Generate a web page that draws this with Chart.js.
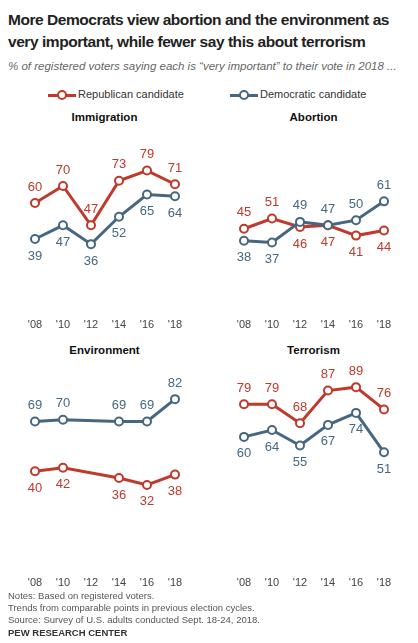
<!DOCTYPE html>
<html>
<head>
<meta charset="utf-8">
<script src="https://cdn.jsdelivr.net/npm/chart.js@4"></script>
<style>
  body { margin: 0; width: 418px; height: 643px; background: #fff; font-family: "Liberation Sans", Arial, sans-serif; position: relative; overflow: hidden; }
  .abs { position: absolute; }
  #title { left: 8px; top: 9px; width: 412px; font-size: 15.5px; font-weight: bold; line-height: 22px; color: #222; letter-spacing: -0.45px; }
  #sub { left: 8px; top: 60px; font-size: 11.5px; font-style: italic; color: #666; white-space: nowrap; }
  .ptitle { font-size: 11.5px; font-weight: bold; color: #111; width: 209px; text-align: center; }
  .leg { font-size: 11px; color: #333; top: 88px; white-space: nowrap; }
  .leg span.sw { display: inline-block; width: 28px; height: 10px; position: relative; vertical-align: middle; margin-right: 2px; }
  .leg span.sw::before { content: ""; position: absolute; left: 0; right: 0; top: 4px; height: 3px; background: var(--c); }
  .leg span.sw::after { content: ""; position: absolute; left: 9px; top: 0; width: 6px; height: 6px; border: 2px solid var(--c); border-radius: 50%; background: #fff; }
  #notes { left: 8px; top: 590px; font-size: 9.5px; color: #555; line-height: 12px; }
  #pew { left: 8px; top: 627px; font-size: 9.5px; font-weight: bold; color: #333; }
  canvas { position: absolute; }
</style>
</head>
<body>
<div id="title" class="abs">More Democrats view abortion and the environment as very important, while fewer say this about terrorism</div>
<div id="sub" class="abs">% of registered voters saying each is “very important” to their vote in 2018 ...</div>
<div class="abs leg" style="left:48px"><span class="sw" style="--c:#c0392b"></span>Republican candidate</div>
<div class="abs leg" style="left:230px"><span class="sw" style="--c:#46677f"></span>Democratic candidate</div>
<div class="abs ptitle" style="left:0;top:111px">Immigration</div>
<div class="abs ptitle" style="left:209px;top:111px">Abortion</div>
<div class="abs ptitle" style="left:0;top:344px">Environment</div>
<div class="abs ptitle" style="left:209px;top:344px">Terrorism</div>
<canvas id="c1" width="209" height="216" style="left:0;top:140px"></canvas>
<canvas id="c2" width="209" height="216" style="left:209px;top:140px"></canvas>
<canvas id="c3" width="209" height="254" style="left:0;top:360px"></canvas>
<canvas id="c4" width="209" height="254" style="left:209px;top:360px"></canvas>
<div id="notes" class="abs">Notes: Based on registered voters.<br>Trends from comparable points in previous election cycles.<br>Source: Survey of U.S. adults conducted Sept. 18-24, 2018.</div>
<div id="pew" class="abs">PEW RESEARCH CENTER</div>
<script>
// Data
const years = ["'08", "'10", "'12", "'14", "'16", "'18"];

const immigrationRep = [60, 70, 47, 73, 79, 71];
const immigrationDem = [39, 47, 36, 52, 65, 64];
const abortionRep = [45, 51, 46, 47, 41, 44];
const abortionDem = [38, 37, 49, 47, 50, 61];
const environmentRep = [40, 42, null, 36, 32, 38];
const environmentDem = [69, 70, null, 69, 69, 82];
const terrorismRep = [79, 79, 68, 87, 89, 76];
const terrorismDem = [60, 64, 55, 67, 74, 51];

// Label placement: a = above point, b = below
const abortionRepPos = ['a', 'a', 'b', 'b', 'b', 'b'];
const abortionDemPos = ['b', 'b', 'a', 'a', 'a', 'a'];

const repColor = '#c0392b';
const demColor = '#46677f';

// Draws value labels next to each point
const valueLabels = {
    id: 'valueLabels',
    afterDatasetsDraw(chart) {
        const ctx = chart.ctx;
        ctx.save();
        ctx.font = '13px "Liberation Sans", Arial, sans-serif';
        ctx.textAlign = 'center';
        ctx.textBaseline = 'middle';
        chart.data.datasets.forEach((ds, i) => {
            const meta = chart.getDatasetMeta(i);
            ctx.fillStyle = ds.borderColor;
            meta.data.forEach((pt, j) => {
                const v = ds.data[j];
                if (v === null) return;
                const pos = ds.labelPos[j];
                ctx.fillText(v, pt.x, pt.y + (pos === 'a' ? -16 : 17));
            });
        });
        ctx.restore();
    }
};

function series(label, data, color, pos) {
    return {
        label, data,
        borderColor: color,
        backgroundColor: '#fff',
        borderWidth: 3,
        pointRadius: 4,
        pointBorderWidth: 2,
        pointBackgroundColor: '#fff',
        spanGaps: true,
        tension: 0,
        clip: false,
        labelPos: pos
    };
}

function makeChart(id, rep, dem, repPos, demPos, min, max) {
    new Chart(document.getElementById(id), {
        type: 'line',
        data: {
            labels: years,
            datasets: [
                series('Democratic candidate', dem, demColor, demPos),
                series('Republican candidate', rep, repColor, repPos)
            ]
        },
        options: {
            responsive: false,
            animation: false,
            layout: { padding: { left: 35, right: 34, top: 10, bottom: 7 } },
            plugins: { legend: { display: false }, tooltip: { enabled: false } },
            scales: {
                x: {
                    offset: false,
                    grid: { display: false },
                    border: { display: false },
                    ticks: { padding: 17, color: '#444', font: { size: 11, family: '"Liberation Sans", Arial, sans-serif' }, autoSkip: false, maxRotation: 0 }
                },
                y: { display: false, min, max }
            }
        },
        plugins: [valueLabels]
    });
}

const allA = ['a', 'a', 'a', 'a', 'a', 'a'];
const allB = ['b', 'b', 'b', 'b', 'b', 'b'];

makeChart('c1', immigrationRep, immigrationDem, allA, allB, 7, 91);
makeChart('c2', abortionRep, abortionDem, abortionRepPos, abortionDemPos, 7, 91);
makeChart('c3', environmentRep, environmentDem, allB, allA, -7, 99);
makeChart('c4', terrorismRep, terrorismDem, allA, allB, -7, 99);
</script>
</body>
</html>
